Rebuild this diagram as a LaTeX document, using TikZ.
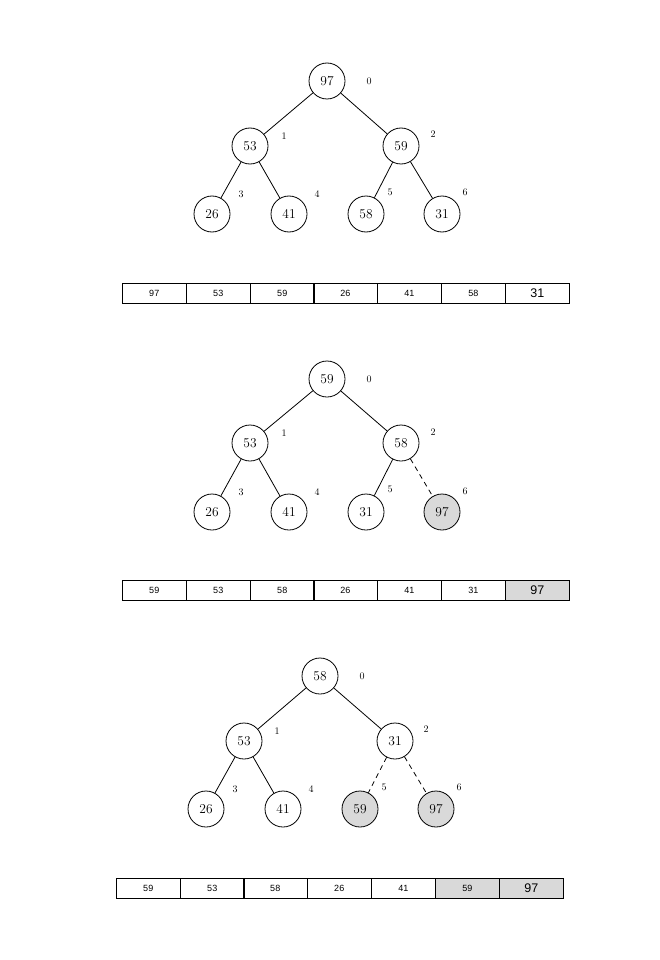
\documentclass[tikz,border=0pt]{standalone}
\usepackage{fontspec}
\newfontfamily\cellfont{Liberation Sans}
\begin{document}
\begin{tikzpicture}[x=1pt,y=-1pt,line width=0.8pt,
 hn/.style={circle,draw,minimum size=36pt,inner sep=0pt,font=\fontsize{13.5}{13.5}\selectfont},
 gn/.style={hn,fill=black!15},
 idx/.style={font=\fontsize{10}{10}\selectfont,inner sep=0pt},
 cell/.style={draw,anchor=west,minimum width=63.7pt,minimum height=20pt,inner sep=0pt,font=\cellfont\fontsize{9}{9}\selectfont},
 bigcell/.style={cell,font=\cellfont\fontsize{12.5}{12.5}\selectfont},
 gcell/.style={fill=black!15},
 dsh/.style={dash pattern=on 5pt off 4pt}]
\useasboundingbox (0,0) rectangle (659,960);

% ---------- Tree 1 ----------
\node[hn] (a0) at (327,81) {97};
\node[hn] (a1) at (250,146) {53};
\node[hn] (a2) at (401,146) {59};
\node[hn] (a3) at (212,214) {26};
\node[hn] (a4) at (289,214) {41};
\node[hn] (a5) at (366,214) {58};
\node[hn] (a6) at (442,214) {31};
\draw (a0) -- (a1); \draw (a0) -- (a2);
\draw (a1) -- (a3); \draw (a1) -- (a4);
\draw (a2) -- (a5); \draw (a2) -- (a6);
\node[idx] (ai0) at (369,81) {0};
\node[idx] (ai1) at (284,136) {1};
\node[idx] (ai2) at (433,134) {2};
\node[idx] (ai3) at (241,194) {3};
\node[idx] (ai4) at (317,194) {4};
\node[idx] (ai5) at (390,192) {5};
\node[idx] (ai6) at (465,192) {6};

\node[cell] (ac0) at (122,293) {97};
\node[cell] (ac1) at (186,293) {53};
\node[cell] (ac2) at (250,293) {59};
\node[cell] (ac3) at (313,293) {26};
\node[cell] (ac4) at (377,293) {41};
\node[cell] (ac5) at (441,293) {58};
\node[bigcell] (ac6) at (505,293) {31};

% ---------- Tree 2 ----------
\node[hn] (b0) at (327,379) {59};
\node[hn] (b1) at (250,443) {53};
\node[hn] (b2) at (401,443) {58};
\node[hn] (b3) at (212,512) {26};
\node[hn] (b4) at (289,512) {41};
\node[hn] (b5) at (366,512) {31};
\node[gn] (b6) at (442,512) {97};
\draw (b0) -- (b1); \draw (b0) -- (b2);
\draw (b1) -- (b3); \draw (b1) -- (b4);
\draw (b2) -- (b5); \draw[dsh] (b2) -- (b6);
\node[idx] (bi0) at (369,379) {0};
\node[idx] (bi1) at (284,433) {1};
\node[idx] (bi2) at (433,432) {2};
\node[idx] (bi3) at (241,492) {3};
\node[idx] (bi4) at (317,492) {4};
\node[idx] (bi5) at (390,489) {5};
\node[idx] (bi6) at (465,491) {6};

\node[cell] (bc0) at (122,590.5) {59};
\node[cell] (bc1) at (186,590.5) {53};
\node[cell] (bc2) at (250,590.5) {58};
\node[cell] (bc3) at (313,590.5) {26};
\node[cell] (bc4) at (377,590.5) {41};
\node[cell] (bc5) at (441,590.5) {31};
\node[bigcell,gcell] (bc6) at (505,590.5) {97};

% ---------- Tree 3 ----------
\node[hn] (c0) at (320,676) {58};
\node[hn] (c1) at (244,741) {53};
\node[hn] (c2) at (395,741) {31};
\node[hn] (c3) at (206,809) {26};
\node[hn] (c4) at (283,809) {41};
\node[gn] (c5) at (360,809) {59};
\node[gn] (c6) at (436,809) {97};
\draw (c0) -- (c1); \draw (c0) -- (c2);
\draw (c1) -- (c3); \draw (c1) -- (c4);
\draw[dsh] (c2) -- (c5); \draw[dsh] (c2) -- (c6);
\node[idx] (ci0) at (362,676) {0};
\node[idx] (ci1) at (277,731) {1};
\node[idx] (ci2) at (426,729) {2};
\node[idx] (ci3) at (235,789) {3};
\node[idx] (ci4) at (311,789) {4};
\node[idx] (ci5) at (384,787) {5};
\node[idx] (ci6) at (459,787) {6};

\node[cell] (cc0) at (116,888) {59};
\node[cell] (cc1) at (180,888) {53};
\node[cell] (cc2) at (243,888) {58};
\node[cell] (cc3) at (307,888) {26};
\node[cell] (cc4) at (371,888) {41};
\node[cell,gcell] (cc5) at (435,888) {59};
\node[bigcell,gcell] (cc6) at (499,888) {97};
\end{tikzpicture}
\end{document}
